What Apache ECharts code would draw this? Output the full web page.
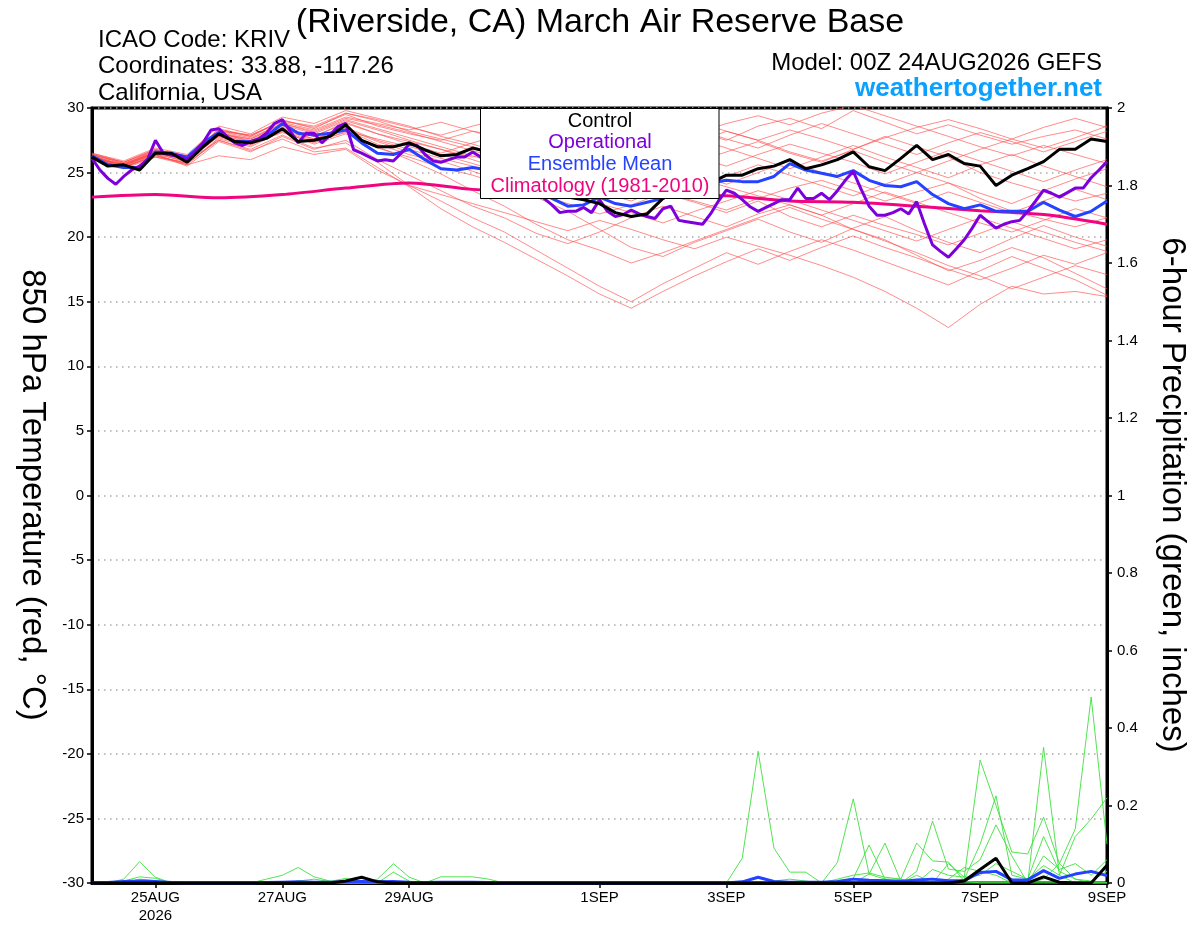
<!DOCTYPE html>
<html>
<head>
<meta charset="utf-8">
<script src="https://cdn.jsdelivr.net/npm/echarts@6/dist/echarts.min.js"></script>
<style>
html,body{margin:0;padding:0;background:#fff;}
#chart{width:1200px;height:927px;}
</style>
</head>
<body>
<div id="chart"></div>
<script>
// ---------- DATA ----------
// x tick labels (one per day, 24AUG 00Z .. 9SEP 00Z)
const xTickLabels = ['24AUG','25AUG\n2026','26AUG','27AUG','28AUG','29AUG','30AUG','31AUG','1SEP','2SEP','3SEP','4SEP','5SEP','6SEP','7SEP','8SEP','9SEP'];
const shownTickIdx = [1,3,5,8,10,12,14,16];

// 850 hPa temperature, 6-hourly (h = 0..384)
const controlT = [26.2,25.5,25.6,25.2,26.5,26.5,25.8,27.0,28.0,27.4,
  27.3,27.65,28.4,27.4,27.5,27.8,28.7,27.5,27.0,27.0,
  27.3,26.75,26.3,26.4,26.9,26.6,26.2,25.6,25.0,24.2,
  23.1,22.9,22.6,21.9,21.6,21.8,23.0,23.6,24.0,24.2,
  24.8,24.8,25.3,25.5,26.0,25.3,25.6,26.0,26.6,25.45,
  25.15,26.1,27.1,26.0,26.4,25.7,25.5,24.0,24.8,25.3,
  25.85,26.8,26.8,27.6,27.4];
const meanT = [26.3,25.6,25.4,25.4,26.6,26.5,26.2,27.3,28.1,27.4,
  27.4,27.8,28.8,28.05,27.9,28.05,28.3,27.3,26.5,26.4,
  26.8,26.0,25.3,25.2,25.4,25.2,24.7,24.2,23.6,23.0,
  22.4,22.5,23.1,22.6,22.4,22.7,23.0,23.5,23.9,24.2,
  24.4,24.3,24.3,24.7,25.7,25.2,24.95,24.7,25.15,24.4,
  24.0,23.9,24.3,23.3,22.6,22.2,22.5,22.0,22.0,22.0,
  22.7,22.1,21.6,22.0,22.8];
// operational, 3-hourly (h = 0..384)
const operT = [26.1,25.2,24.55,24.1,24.7,25.2,25.5,26.0,27.5,26.5,
  26.35,26.3,26.0,26.6,27.3,28.3,28.4,27.8,27.3,27.1,
  27.4,27.6,28.05,28.8,29.1,28.2,27.3,28.05,28.05,27.3,
  27.9,28.55,28.8,26.75,26.5,26.2,25.9,26.0,25.9,26.5,
  27.2,27.1,26.4,25.9,25.8,26.0,26.2,26.2,26.6,26.2,
  26.0,25.7,25.4,25.0,24.6,24.0,23.5,23.0,22.5,21.9,
  22.0,22.0,22.3,21.9,22.9,22.0,21.6,21.75,22.1,21.8,
  21.6,21.45,22.2,22.4,21.3,21.2,21.1,21.0,21.8,22.8,
  23.65,23.4,22.9,22.35,22.0,22.3,22.6,22.9,22.9,23.8,
  23.0,23.0,23.4,22.9,23.6,24.4,25.1,23.7,22.4,21.7,
  21.7,21.9,22.2,21.8,22.75,21.0,19.4,18.9,18.45,19.1,
  19.8,20.7,21.7,21.2,20.7,21.0,21.2,21.3,22.0,22.8,
  23.65,23.4,23.1,23.45,23.8,23.8,24.6,25.2,25.85];
// climatology, daily (h = 0..384)
const climT = [23.1,23.3,23.05,23.3,23.8,24.2,23.7,23.5,23.4,23.35,23.2,22.8,22.7,22.4,22.05,21.75,21.0];

// ensemble members, 12-hourly (h = 0..384)
const memberT = [
 [26.4,25.8,26.8,26.2,28.3,27.8,29.0,28.5,29.5,28.6,28.0,27.5,28.2,27.8,27.0,26.5,27.2,28.0,28.8,28.2,27.5,28.6,29.2,28.4,29.8,28.9,28.0,28.7,27.9,27.2,27.8,28.3,27.6],
 [26.0,25.4,26.3,25.7,27.6,27.0,28.2,27.2,28.0,26.9,26.2,25.4,24.8,24.0,23.4,22.6,21.8,22.5,23.4,22.8,22.1,23.0,23.8,24.4,23.6,22.8,23.5,24.2,23.0,22.0,21.4,20.8,21.5],
 [26.3,25.5,26.6,26.0,28.1,27.6,28.7,28.0,29.0,28.3,27.5,26.8,26.0,25.2,24.7,25.5,26.3,25.4,24.6,25.8,26.6,27.4,26.5,25.8,26.8,27.8,27.0,26.2,25.0,24.2,23.5,22.8,23.4],
 [26.1,25.6,26.4,25.5,27.4,26.6,27.8,26.8,27.5,26.0,24.8,23.6,22.4,21.5,20.3,19.5,20.4,21.5,22.4,21.6,20.8,21.8,22.5,21.7,20.6,19.8,18.6,17.4,18.2,19.2,18.4,17.2,16.0],
 [26.5,25.9,26.9,26.4,28.6,28.0,29.3,28.8,29.8,29.2,28.6,27.8,27.2,26.5,27.3,28.2,27.5,26.8,27.6,28.4,27.6,26.9,27.9,28.8,28.0,27.2,26.4,27.3,28.1,27.4,26.6,27.4,28.2],
 [26.2,25.3,26.2,25.8,27.9,27.4,28.4,27.6,28.4,27.4,26.6,25.9,25.1,24.3,23.1,22.0,20.6,19.2,18.5,19.6,20.5,21.4,20.4,19.6,20.7,21.6,20.5,19.6,18.8,19.9,20.9,20.0,19.3],
 [26.0,25.7,26.5,26.1,27.8,27.2,28.1,27.3,28.2,27.6,27.0,26.4,25.7,25.0,24.2,23.6,24.4,25.3,24.5,23.8,24.7,25.6,24.8,24.0,23.2,24.1,25.0,24.2,23.4,22.6,23.6,24.5,25.3],
 [26.3,25.6,26.6,25.9,27.5,26.8,27.9,26.9,27.3,25.8,24.0,22.8,21.5,20.4,19.0,17.6,16.2,15.0,16.4,17.6,18.8,17.9,18.9,19.8,19.0,18.1,17.2,16.3,17.4,18.5,17.6,16.7,15.5],
 [26.4,25.7,26.7,26.3,28.2,27.9,28.9,28.3,29.3,28.8,28.3,28.9,28.2,27.5,26.8,27.6,28.5,29.2,28.4,27.7,26.9,26.1,25.3,26.2,27.1,26.2,25.4,24.6,25.6,26.4,25.5,24.7,23.9],
 [26.1,25.4,26.4,25.6,27.7,27.1,28.3,27.5,28.3,27.2,26.4,25.8,26.5,25.7,25.0,24.2,23.5,22.8,23.8,24.6,23.9,23.2,22.5,21.7,22.6,23.5,22.7,21.9,21.1,20.4,21.3,22.2,21.5],
 [26.2,25.5,26.5,26.0,28.0,27.5,28.6,27.8,28.9,28.0,27.4,26.8,26.2,27.0,27.8,27.0,26.2,25.5,26.4,27.3,28.2,27.5,26.6,25.9,26.7,25.8,25.0,25.9,26.8,27.6,26.9,27.7,28.6],
 [26.3,25.4,26.3,25.7,27.5,26.7,27.6,26.6,26.9,25.4,23.9,22.2,20.8,19.6,18.3,17.0,15.6,14.5,15.8,17.0,18.1,19.1,18.2,19.2,20.1,19.2,18.4,17.5,16.7,17.6,18.6,17.9,18.8],
 [26.5,25.8,26.8,26.2,28.4,27.8,29.1,28.4,29.6,29.0,28.2,27.6,27.0,26.3,25.6,26.4,25.6,24.8,25.7,24.9,24.1,25.0,25.9,25.0,24.2,23.4,22.6,23.5,22.7,21.9,22.8,23.7,22.9],
 [26.0,25.5,26.2,25.6,26.3,26.0,27.0,26.4,26.8,25.2,24.0,23.3,22.6,21.9,21.2,20.5,21.3,20.6,19.8,19.1,20.0,19.3,18.6,17.8,16.9,15.8,14.5,13.0,14.8,16.2,15.6,15.8,15.4],
 [26.2,25.6,26.6,26.0,28.1,27.4,28.5,27.8,28.8,28.0,27.2,26.5,27.3,28.0,28.7,29.3,28.6,27.9,27.2,28.0,28.8,29.4,28.7,29.6,30.2,29.4,28.6,27.8,27.0,26.3,27.1,26.4,25.7],
 [26.4,25.7,26.5,26.2,28.0,27.6,28.8,28.1,29.1,28.4,27.7,27.0,26.3,25.5,24.8,24.1,23.3,24.1,23.4,22.7,21.9,22.8,21.6,20.8,21.7,20.9,20.2,19.4,20.3,21.2,20.4,19.6,18.9],
 [26.1,25.4,26.4,25.9,27.8,27.2,28.2,27.4,28.1,27.0,26.0,24.9,23.6,22.4,21.0,19.8,19.0,18.0,18.8,19.7,20.6,21.5,22.3,21.4,20.6,19.7,18.8,17.8,17.0,16.0,16.9,17.8,17.1],
 [26.3,25.6,26.7,26.1,28.2,27.7,28.8,28.2,29.2,28.7,28.1,27.4,26.7,26.0,25.4,26.2,27.0,27.8,26.9,26.2,25.5,26.4,27.2,26.5,25.8,24.9,25.8,26.7,25.9,25.1,24.3,25.2,26.0],
 [26.2,25.5,26.5,25.8,27.9,27.3,28.4,27.6,28.5,27.5,26.8,26.1,25.5,24.8,24.1,23.4,22.6,21.9,21.1,22.0,22.8,23.6,22.9,22.1,21.3,20.5,19.7,20.6,21.5,20.7,19.9,19.1,19.8],
 [26.4,25.8,26.7,26.3,28.3,27.9,29.0,28.6,29.6,29.1,28.5,27.9,28.6,29.2,28.5,27.8,28.5,29.2,29.8,29.0,28.2,27.5,28.3,27.6,26.8,27.7,28.5,29.1,28.4,27.6,28.5,29.2,28.5]
];

// 6-hour precipitation (inches), 6-hourly (h = 0..384)
const controlP = [0,0,0,0,0,0,0,0,0,0,
  0,0,0,0,0,0,0.005,0.015,0.003,0,
  0,0,0,0,0,0,0,0,0,0,
  0,0,0,0,0,0,0,0,0,0,
  0,0,0,0,0,0,0,0,0,0,
  0,0,0,0,0,0.005,0.035,0.064,0,0,
  0.016,0.002,0,0,0.046];
const meanP = [0,0.001,0.004,0.005,0.004,0.001,0,0,0,0,
  0,0.001,0.002,0.003,0.002,0.002,0.003,0.004,0.003,0.004,
  0.002,0.001,0.002,0.002,0.002,0.001,0,0,0,0,
  0,0,0,0,0,0,0,0,0,0,
  0,0.003,0.015,0.004,0.002,0.002,0.002,0.004,0.01,0.007,
  0.006,0.004,0.008,0.01,0.006,0.006,0.027,0.03,0.008,0.008,
  0.032,0.012,0.023,0.03,0.019];
const memberP = [
 [0,0,0.01,0.055,0.015,0,0,0,0,0,
  0,0,0,0,0,0,0,0,0,0,
  0,0,0,0,0,0,0,0,0,0,
  0,0,0,0,0,0,0,0,0,0,
  0,0.064,0.34,0.09,0.028,0.028,0,0.053,0.217,0.023,
  0.01,0,0,0,0,0,0,0,0,0,
  0,0,0,0,0],
 [0,0,0.005,0.016,0.012,0,0,0,0,0,
  0,0,0,0,0,0,0,0,0,0,
  0,0,0,0,0,0,0,0,0,0,
  0,0,0,0,0,0,0,0,0,0,
  0,0,0,0,0,0,0,0.005,0.012,0.098,
  0.01,0.01,0,0,0,0,0,0,0,0,
  0.35,0.02,0,0,0],
 [0,0,0,0,0,0,0,0,0,0,
  0,0.01,0.02,0.04,0.016,0.005,0,0,0,0,
  0,0,0,0,0,0,0,0,0,0,
  0,0,0,0,0,0,0,0,0,0,
  0,0,0,0,0,0,0,0,0,0.023,
  0.103,0.005,0,0,0.05,0.015,0.317,0.2,0.08,0.075,
  0.17,0.05,0.01,0,0],
 [0,0,0,0,0,0,0,0,0,0,
  0,0,0,0,0,0,0,0,0.01,0.05,
  0.015,0,0.016,0.016,0.016,0.01,0,0,0,0,
  0,0,0,0,0,0,0,0,0,0,
  0,0,0,0,0,0,0,0,0,0,
  0,0.01,0.103,0.057,0.054,0.005,0,0,0,0,
  0.01,0.05,0.14,0.48,0.1],
 [0,0,0,0,0,0,0,0,0,0,
  0,0,0,0,0,0,0,0,0,0.028,
  0.005,0,0,0,0,0,0,0,0,0,
  0,0,0,0,0,0,0,0,0,0,
  0,0,0,0,0,0,0,0,0,0,
  0,0,0.03,0.16,0.036,0.03,0.06,0.15,0.07,0,
  0,0,0,0,0],
 [0,0,0,0,0,0,0,0,0,0,
  0,0,0,0,0,0.004,0.012,0.004,0,0,
  0,0,0,0,0,0,0,0,0,0,
  0,0,0,0,0,0,0,0,0,0,
  0,0,0,0,0,0,0,0,0,0,
  0,0,0,0,0,0.01,0.1,0.225,0.02,0.01,
  0.045,0.02,0.12,0.165,0.22],
 [0,0,0,0.01,0.006,0,0,0,0,0,
  0,0,0,0,0,0,0,0,0,0,
  0,0,0,0,0,0,0,0,0,0,
  0,0,0,0,0,0,0,0,0,0,
  0,0,0,0,0,0,0,0.01,0.02,0.026,
  0.015,0.01,0,0.035,0.02,0.015,0.02,0.05,0.03,0.01,
  0.12,0.03,0.01,0.005,0.03],
 [0,0,0,0,0,0,0,0,0,0,
  0,0,0,0.005,0.01,0.004,0,0,0,0,
  0,0,0,0,0,0,0,0,0,0,
  0,0,0,0,0,0,0,0,0,0,
  0,0,0,0.005,0.01,0.005,0,0,0,0,
  0,0,0.02,0,0.01,0.04,0.03,0.02,0,0,
  0.07,0.035,0.05,0.02,0.06]
];

// ---------- CHART ----------
const FONT = 'Liberation Sans, Arial, Helvetica, sans-serif';
function pairs(arr, step){ return arr.map((v,i)=>[i*step, v]); }
function tickShown(idx){ return shownTickIdx.indexOf(idx) >= 0; }

const series = [];
memberT.forEach((m,i)=>series.push({
  name:'member'+i, type:'line', xAxisIndex:0, yAxisIndex:0, data:pairs(m,12),
  showSymbol:false, silent:true, z:1,
  lineStyle:{color:'#ff4a4a', width:0.8, opacity:0.8}
}));
memberP.forEach((m,i)=>series.push({
  name:'pmember'+i, type:'line', xAxisIndex:0, yAxisIndex:1, data:pairs(m,6),
  showSymbol:false, silent:true, z:1,
  lineStyle:{color:'#3ee03e', width:0.9}
}));
series.push({name:'Climatology (1981-2010)', type:'line', xAxisIndex:0, yAxisIndex:0, data:pairs(climT,24),
  showSymbol:false, smooth:0.3, z:3, lineStyle:{color:'#f0047f', width:3}});
series.push({name:'Ensemble Mean', type:'line', xAxisIndex:0, yAxisIndex:0, data:pairs(meanT,6),
  showSymbol:false, z:4, lineStyle:{color:'#2442ff', width:3}});
series.push({name:'Operational', type:'line', xAxisIndex:0, yAxisIndex:0, data:pairs(operT,3),
  showSymbol:false, z:5, lineStyle:{color:'#7d00dc', width:3}});
series.push({name:'Control', type:'line', xAxisIndex:0, yAxisIndex:0, data:pairs(controlT,6),
  showSymbol:false, z:6, lineStyle:{color:'#000', width:3}});
series.push({name:'meanP', type:'line', xAxisIndex:0, yAxisIndex:1, data:pairs(meanP,6),
  showSymbol:false, z:4, lineStyle:{color:'#2442ff', width:3}});
series.push({name:'controlP', type:'line', xAxisIndex:0, yAxisIndex:1, data:pairs(controlP,6),
  showSymbol:false, z:6, lineStyle:{color:'#000', width:3}});

const chart = echarts.init(document.getElementById('chart'), null, {renderer:'canvas'});
chart.setOption({
  animation:false,
  backgroundColor:'#fff',
  textStyle:{fontFamily:FONT},
  title:{text:'(Riverside, CA) March Air Reserve Base', left:'center', top:1,
    textStyle:{fontFamily:FONT, fontSize:34, fontWeight:'normal', color:'#000'}},
  grid:{left:92, right:93, top:108, bottom:44, show:true, borderColor:'#000', borderWidth:3, backgroundColor:'transparent'},
  xAxis:[
    {type:'value', min:0, max:384, show:false},
    {type:'category', data:xTickLabels, boundaryGap:false, position:'bottom',
      axisLine:{show:true, lineStyle:{color:'#000', width:3}},
      axisTick:{show:true, interval:tickShown, length:5, lineStyle:{color:'#000', width:1.5}},
      axisLabel:{interval:tickShown, color:'#000', fontSize:15, fontFamily:FONT, margin:6, lineHeight:18},
      splitLine:{show:false}}
  ],
  yAxis:[
    {type:'value', min:-30, max:30, interval:5, position:'left',
      axisLine:{show:true, lineStyle:{color:'#000', width:3}},
      axisTick:{show:true, length:5, lineStyle:{color:'#000', width:1.5}},
      axisLabel:{color:'#000', fontSize:15, fontFamily:FONT, margin:8},
      splitLine:{show:true, lineStyle:{color:'#aaaaaa', width:1.5, type:[1.5,4.5]}}},
    {type:'value', min:0, max:2, interval:0.2, position:'right',
      axisLine:{show:true, lineStyle:{color:'#000', width:3}},
      axisTick:{show:true, length:5, lineStyle:{color:'#000', width:1.5}},
      axisLabel:{color:'#000', fontSize:15, fontFamily:FONT, margin:10},
      splitLine:{show:false}}
  ],
  graphic:[
    {type:'text', x:98, y:40, z:100, style:{text:'ICAO Code: KRIV', fill:'#000', fontSize:24, fontFamily:FONT, align:'left', verticalAlign:'middle'}},
    {type:'text', x:98, y:66, z:100, style:{text:'Coordinates: 33.88, -117.26', fill:'#000', fontSize:24, fontFamily:FONT, align:'left', verticalAlign:'middle'}},
    {type:'text', x:98, y:93, z:100, style:{text:'California, USA', fill:'#000', fontSize:24, fontFamily:FONT, align:'left', verticalAlign:'middle'}},
    {type:'text', x:1102, y:63, z:100, style:{text:'Model: 00Z 24AUG2026 GEFS', fill:'#000', fontSize:24, fontFamily:FONT, align:'right', verticalAlign:'middle'}},
    {type:'text', x:1102, y:89, z:100, style:{text:'weathertogether.net', fill:'#0aa0ff', fontSize:26, fontWeight:'bold', fontFamily:FONT, align:'right', verticalAlign:'middle'}},
    {type:'text', x:32, y:495, rotation:-Math.PI/2, z:100, style:{text:'850 hPa Temperature (red, °C)', fill:'#000', fontSize:33, fontFamily:FONT, align:'center', verticalAlign:'middle'}},
    {type:'text', x:1172, y:495, rotation:-Math.PI/2, z:100, style:{text:'6-hour Precipitation (green, inches)', fill:'#000', fontSize:33, fontFamily:FONT, align:'center', verticalAlign:'middle'}},
    {type:'rect', z:100, shape:{x:480.5, y:108.5, width:238.5, height:90}, style:{fill:'#fff', stroke:'#000', lineWidth:1}},
    {type:'text', x:600, y:121, z:101, style:{text:'Control', fill:'#000', fontSize:20, fontFamily:FONT, align:'center', verticalAlign:'middle'}},
    {type:'text', x:600, y:142.5, z:101, style:{text:'Operational', fill:'#7d00dc', fontSize:20, fontFamily:FONT, align:'center', verticalAlign:'middle'}},
    {type:'text', x:600, y:164, z:101, style:{text:'Ensemble Mean', fill:'#2442ff', fontSize:20, fontFamily:FONT, align:'center', verticalAlign:'middle'}},
    {type:'text', x:600, y:186, z:101, style:{text:'Climatology (1981-2010)', fill:'#f0047f', fontSize:20, fontFamily:FONT, align:'center', verticalAlign:'middle'}}
  ],
  series:series
});
</script>
</body>
</html>
